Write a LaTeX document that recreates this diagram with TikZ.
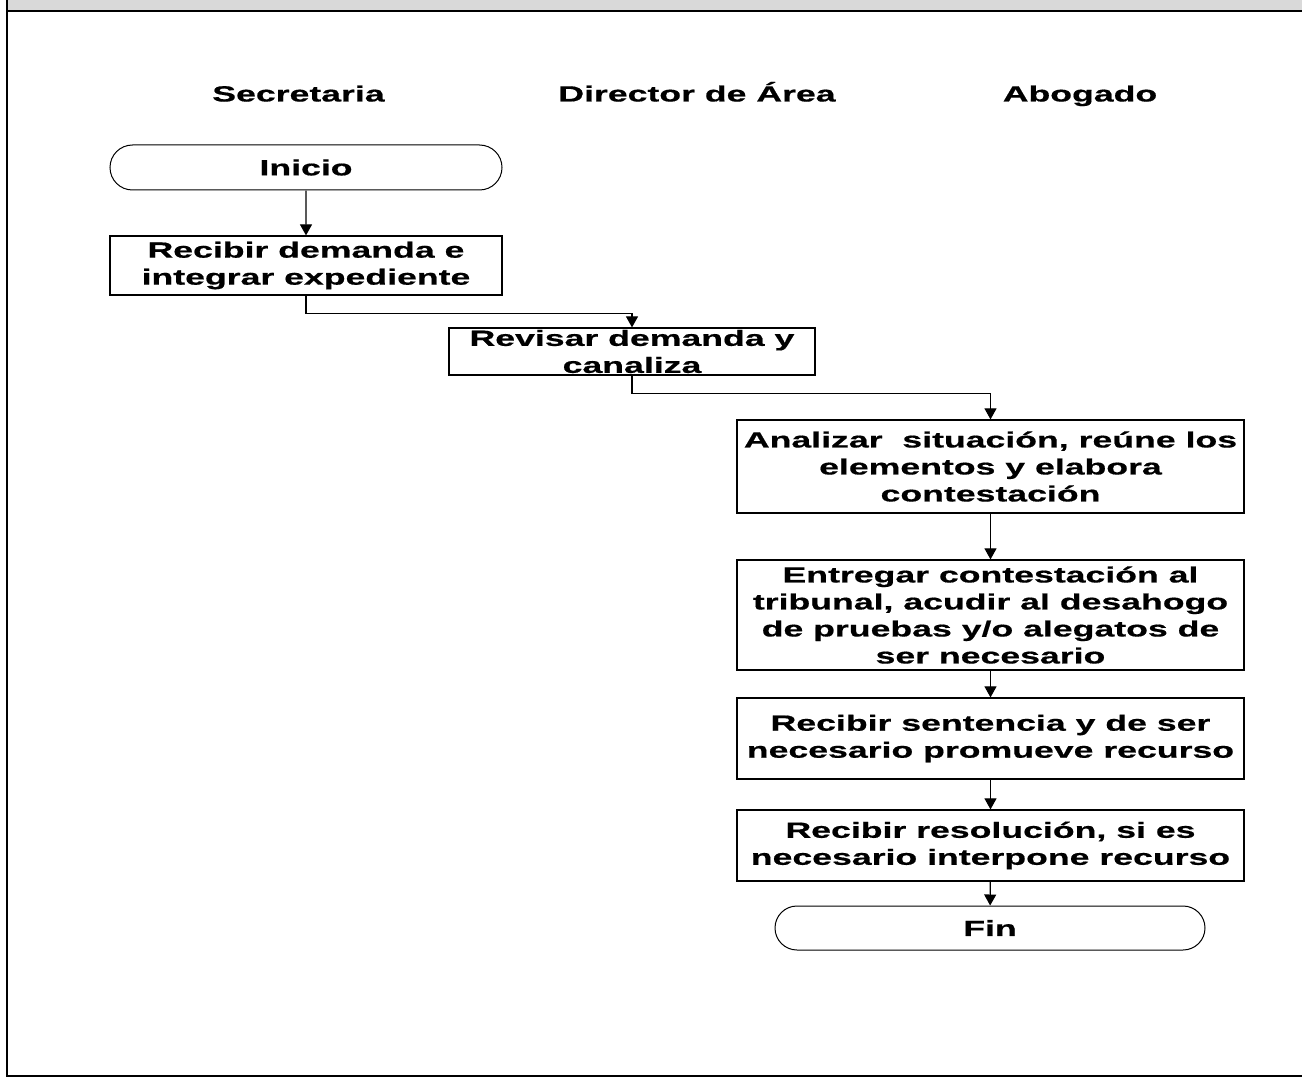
\documentclass[tikz,border=0pt]{standalone}
\usepackage{fontspec}
\newfontfamily\flowfont{Liberation Sans}[FakeStretch=1.62,BoldFeatures={FakeBold=0.6}]
\usetikzlibrary{arrows.meta,shapes.misc}
\begin{document}
\begin{tikzpicture}[x=1pt,y=-1pt,
  txt/.style={font=\flowfont\bfseries\fontsize{22}{27}\selectfont,align=center},
  lanehead/.style={txt,anchor=base,inner sep=0pt},
  procbox/.style={txt,draw,line width=1.2pt,inner sep=0pt},
  termbox/.style={txt,draw,line width=1pt,rounded rectangle,inner sep=0pt},
  flow/.style={line width=1.1pt,-{Triangle[length=11pt,width=12pt]}}]
\useasboundingbox (0,0) rectangle (1302,1078);

% page frame with grey title band
\fill[gray!30] (7,0) rectangle (1302,11);
\draw[line width=1.5pt] (7,11) -- (1302,11);
\draw[line width=1.2pt] (7,0) -- (7,1076) -- (1302,1076);

% lane headings
\node[lanehead] (hsec) at (298.5,101.5) {Secretaria};
\node[lanehead] (hdir) at (697,101.5) {Director de Área};
\node[lanehead] (habo) at (1080,101.5) {Abogado};

% Secretaria
\node[termbox,minimum width=392pt,minimum height=45pt] (inicio) at (306,167.5) {Inicio};
\node[procbox,minimum width=392pt,minimum height=59pt] (b1) at (306,265.5) {Recibir demanda e\\integrar expediente};

% Director de Área
\node[procbox,minimum width=366pt,minimum height=47pt] (b2) at (632,351.5) {};
\node[txt,inner sep=0pt] (b2text) at (b2.center) {Revisar demanda y\\canaliza};

% Abogado
\node[procbox,minimum width=507pt,minimum height=93pt] (b3) at (990.5,466.5) {Analizar\ \ situación, reúne los\\elementos y elabora\\contestación};
\node[procbox,minimum width=507pt,minimum height=110pt] (b4) at (990.5,615) {Entregar contestación al\\tribunal, acudir al desahogo\\de pruebas y/o alegatos de\\ser necesario};
\node[procbox,minimum width=507pt,minimum height=81pt] (b5) at (990.5,738.5) {Recibir sentencia y de ser\\necesario promueve recurso};
\node[procbox,minimum width=507pt,minimum height=71pt] (b6) at (990.5,845.5) {Recibir resolución, si es\\necesario interpone recurso};
\node[termbox,minimum width=430pt,minimum height=44pt] (fin) at (990,928) {Fin};

% connectors
\draw[flow] (inicio) -- (b1);
\draw[flow] (b1.south) -- ++(0,18) -| (b2.north);
\draw[flow] (b2.south) -- ++(0,18) -| (b3.north);
\draw[flow] (b3) -- (b4);
\draw[flow] (b4) -- (b5);
\draw[flow] (b5) -- (b6);
\draw[flow] (b6) -- (fin);
\end{tikzpicture}
\end{document}
